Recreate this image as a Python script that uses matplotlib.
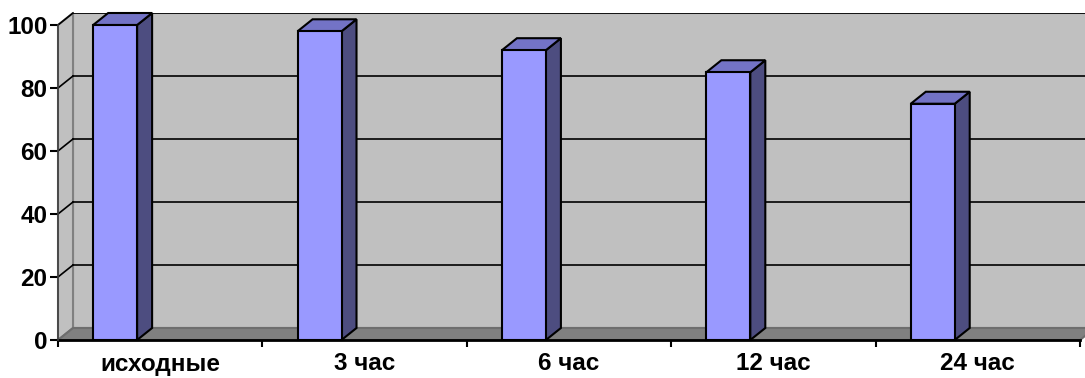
import matplotlib.pyplot as plt
from matplotlib.patches import Polygon

plt.rcParams['font.family'] = ['Liberation Sans', 'DejaVu Sans']

categories = ["исходные", "3 час", "6 час", "12 час", "24 час"]
values = [100, 98, 92, 85, 75]
y_ticks = [0, 20, 40, 60, 80, 100]

# pseudo-3D depth offset (data units) and bar placement inside each category
ddx, ddy = 0.0734, 3.81
bar_left, bar_w = 0.172, 0.215

face_col = "#9999FF"
top_col = "#7373C6"
side_col = "#4D4D80"
wall_col = "#C0C0C0"
floor_col = "#808080"
edge_col = "#808080"

fig = plt.figure(figsize=(10.85, 3.78), dpi=100)
ax = fig.add_axes([58 / 1085, 38 / 378, 1027 / 1085, 327 / 378])
n = len(categories)
ax.set_xlim(0, 1027 / 204.4)
ax.set_ylim(0, 100 + ddy)

# walls and floor
back = Polygon([(ddx, ddy), (n + ddx, ddy), (n + ddx, 100 + ddy), (ddx, 100 + ddy)],
               closed=True, fc=wall_col, ec=edge_col, lw=1.5, zorder=1, clip_on=True)
side = Polygon([(0, 0), (ddx, ddy), (ddx, 100 + ddy), (0, 100)],
               closed=True, fc=wall_col, ec=edge_col, lw=1.5, zorder=1, clip_on=False)
floor = Polygon([(0, 0), (n, 0), (n + ddx, ddy), (ddx, ddy)],
                closed=True, fc=floor_col, ec="#6E6E6E", lw=1.5, zorder=1.5, clip_on=False)
for p in (back, side, floor):
    ax.add_patch(p)

# gridlines on back wall and side wall
for v in y_ticks[1:]:
    ax.plot([ddx, n + ddx], [v + ddy, v + ddy], color="black", lw=1.2, zorder=2)
    ax.plot([0, ddx], [v, v + ddy], color="black", lw=1.2, zorder=2, clip_on=False)

# bars
for i, v in enumerate(values):
    x0 = i + bar_left
    x1 = x0 + bar_w
    front = Polygon([(x0, 0), (x1, 0), (x1, v), (x0, v)], closed=True,
                    fc=face_col, ec="black", lw=1.5, zorder=5, clip_on=False)
    right = Polygon([(x1, 0), (x1 + ddx, ddy), (x1 + ddx, v + ddy), (x1, v)], closed=True,
                    fc=side_col, ec="black", lw=1.5, zorder=4, clip_on=False)
    top = Polygon([(x0, v), (x1, v), (x1 + ddx, v + ddy), (x0 + ddx, v + ddy)], closed=True,
                  fc=top_col, ec="black", lw=1.5, zorder=4, clip_on=False)
    for p in (right, top, front):
        ax.add_patch(p)

# front axes lines
ax.plot([0, n], [0, 0], color="black", lw=2, zorder=6, clip_on=False)
ax.plot([0, 0], [0, 100], color="#404040", lw=1.2, zorder=6, clip_on=False)

for s in ax.spines.values():
    s.set_visible(False)

ax.set_yticks(y_ticks)
ax.set_yticklabels([str(t) for t in y_ticks], fontsize=17.5, fontweight="bold")
ax.tick_params(axis="y", length=6, width=1.5, pad=1.5, color="black")

ax.set_xticks(range(n + 1))
ax.set_xticklabels([])
ax.set_xticks([i + 0.5 for i in range(n)], minor=True)
ax.set_xticklabels(categories, minor=True, fontsize=17.5, fontweight="bold")
ax.tick_params(axis="x", which="major", length=5, width=1.5, color="black")
ax.tick_params(axis="x", which="minor", length=0, pad=9)

fig.savefig("out.png", dpi=100)
